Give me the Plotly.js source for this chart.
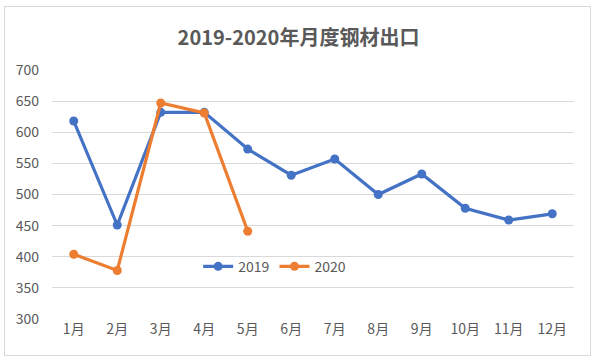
<!DOCTYPE html>
<html>
<head>
<meta charset="utf-8">
<script src="https://cdn.plot.ly/plotly-3.0.1.min.js"></script>
<style>
html,body{margin:0;padding:0;background:#fff;}
#wrap{position:absolute;left:0;top:0;width:597px;height:361px;}
#frame{position:absolute;left:4px;top:6px;width:587px;height:350px;border:1px solid #d9d9d9;box-sizing:border-box;pointer-events:none;z-index:5;}
#chart{position:absolute;left:0;top:0;width:597px;height:361px;}
</style>
</head>
<body>
<div id="wrap"><div id="chart"></div><div id="frame"></div></div>
<script>
var months = ["1月","2月","3月","4月","5月","6月","7月","8月","9月","10月","11月","12月"];
var months2020 = ["1月","2月","3月","4月","5月"];
var values2019 = [618, 451, 632, 632, 573, 531, 557, 500, 533, 478, 459, 469];
var values2020 = [404, 378, 647, 631, 441];
var yTicks = [300, 350, 400, 450, 500, 550, 600, 650, 700];

var font = "'Noto Sans CJK SC', 'Noto Sans', sans-serif";
var traces = [
  {x: months, y: values2019, name: "2019", type: "scatter", mode: "lines+markers",
   line: {color: "#4472C4", width: 3.2}, marker: {color: "#4472C4", size: 9}},
  {x: months2020, y: values2020, name: "2020", type: "scatter", mode: "lines+markers",
   line: {color: "#ED7D31", width: 3.2}, marker: {color: "#ED7D31", size: 9}}
];
var layout = {
  width: 597, height: 361,
  margin: {l: 52, r: 23, t: 70, b: 42},
  paper_bgcolor: "#fff", plot_bgcolor: "#fff",
  title: {text: "2019-2020年月度钢材出口", x: 0.5, xanchor: "center", y: 0.895, yanchor: "middle",
          font: {family: font, size: 20, color: "#595959", weight: "bold"}},
  xaxis: {type: "category", categoryorder: "array", categoryarray: months,
          range: [-0.5, 11.5], showgrid: false, zeroline: false, showline: false,
          ticks: "", tickfont: {family: font, size: 14, color: "#595959"}},
  yaxis: {range: [300, 700], tickvals: yTicks, showgrid: true, gridcolor: "#d9d9d9", gridwidth: 1,
          zeroline: false, showline: false, ticks: "", ticklabelstandoff: 12,
          tickfont: {family: font, size: 14, color: "#595959"}},
  legend: {orientation: "h", x: 0.28, xanchor: "left", y: 0.21, yanchor: "middle",
           bgcolor: "rgba(0,0,0,0)", font: {family: font, size: 14, color: "#595959"},
           itemwidth: 30, tracegroupgap: 0},
  showlegend: true
};
Plotly.newPlot("chart", traces, layout, {displayModeBar: false, staticPlot: true});
</script>
</body>
</html>
